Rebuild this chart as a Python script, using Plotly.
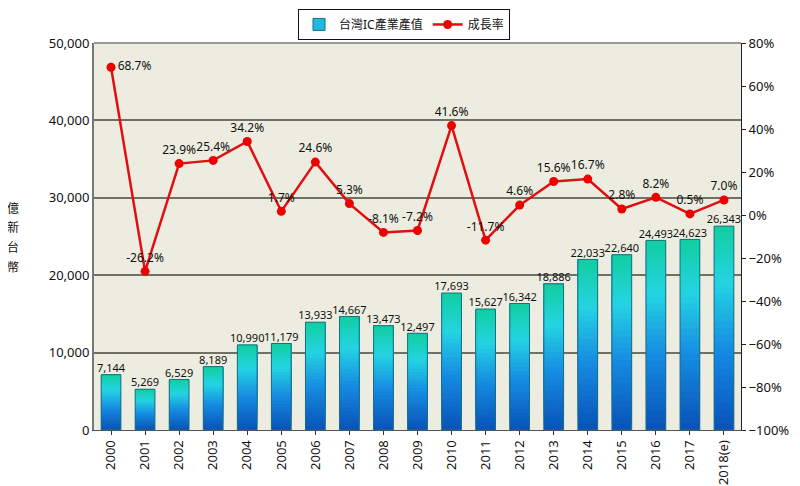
import plotly.graph_objects as go

years = ["2000", "2001", "2002", "2003", "2004", "2005", "2006", "2007", "2008", "2009",
         "2010", "2011", "2012", "2013", "2014", "2015", "2016", "2017", "2018(e)"]
output_value = [7144, 5269, 6529, 8189, 10990, 11179, 13933, 14667, 13473, 12497,
                17693, 15627, 16342, 18886, 22033, 22640, 24493, 24623, 26343]
growth_rate = [68.7, -26.2, 23.9, 25.4, 34.2, 1.7, 24.6, 5.3, -8.1, -7.2,
               41.6, -11.7, 4.6, 15.6, 16.7, 2.8, 8.2, 0.5, 7.0]
unit_chars = ["億", "新", "台", "幣"]

FONT = "Noto Sans, Noto Sans CJK TC, sans-serif"
BAR_W = 0.58

# gradient stops for the bars (fraction from bottom, rgb)
stops = [(0.0, (8, 82, 184)), (0.4, (22, 140, 226)), (0.72, (36, 212, 226)), (1.0, (16, 206, 160))]


def grad(f):
    for (f0, c0), (f1, c1) in zip(stops[:-1], stops[1:]):
        if f <= f1:
            t = (f - f0) / (f1 - f0)
            return "rgb(%d,%d,%d)" % tuple(round(a + (b - a) * t) for a, b in zip(c0, c1))
    return "rgb(%d,%d,%d)" % stops[-1][1]


fig = go.Figure()

# bars drawn as overlapping slices (each from i/N up to the top) -> vertical gradient
N = 30
for i in range(N):
    fig.add_trace(go.Bar(
        x=years, y=[v * (N - i) / N for v in output_value], base=[v * i / N for v in output_value],
        width=BAR_W, marker=dict(color=grad((i + 0.5) / N), line=dict(width=0)),
        showlegend=False, hoverinfo="skip",
    ))

# outline
fig.add_trace(go.Bar(
    x=years, y=output_value, width=BAR_W, showlegend=False,
    marker=dict(color="rgba(0,0,0,0)", line=dict(color="#1b6f80", width=1)),
))
# legend entry for the bars
fig.add_trace(go.Bar(x=[years[0]], y=[0], name="台灣IC產業產值", width=BAR_W,
                     marker=dict(color="#22b8e0", line=dict(color="#1b6f80", width=1))))

# value labels above bars
fig.add_trace(go.Scatter(
    x=years, y=output_value, mode="text", showlegend=False,
    text=[f"{v:,}" for v in output_value], textposition="top center",
    textfont=dict(size=11, color="#111", family=FONT), cliponaxis=False,
))

pos = ["middle right"] + ["top center"] * (len(years) - 1)
fig.add_trace(go.Scatter(
    x=years, y=growth_rate, yaxis="y2", name="成長率", mode="lines+markers+text",
    line=dict(color="#e01010", width=2.5), marker=dict(color="#ee0000", size=9),
    text=[f"{g:.1f}%" for g in growth_rate], textposition=pos,
    textfont=dict(size=12, color="#111", family=FONT), cliponaxis=False,
))

# page body adds an 8px offset, so the figure is 8px smaller and margins shifted
fig.update_layout(
    width=792, height=478,
    margin=dict(l=86, r=59, t=35, b=56),
    paper_bgcolor="white", plot_bgcolor="#ecede0",
    barmode="overlay",
    font=dict(family=FONT, size=13, color="#111"),
    legend=dict(orientation="h", x=0.5, xanchor="center", xref="container",
                y=0.998, yanchor="top", yref="container",
                bordercolor="#111", borderwidth=1, font=dict(size=12),
                tracegroupgap=0),
    xaxis=dict(type="category", range=[-0.5, len(years) - 0.5], tickangle=-90,
               showgrid=False, ticks="outside", ticklen=4, tickcolor="#333",
               showline=True, linecolor="#555", tickfont=dict(size=13), automargin=False),
    yaxis=dict(range=[0, 50000], dtick=10000, tickformat=",d", showgrid=True,
               gridcolor="#707066", gridwidth=1.5, showline=True, linecolor="#777",
               linewidth=2, zeroline=False, tickfont=dict(size=13), automargin=False),
    yaxis2=dict(range=[-100, 80], dtick=20, ticksuffix="%", overlaying="y", side="right",
                showgrid=False, zeroline=False, showline=True, linecolor="#222",
                ticks="outside", ticklen=4, tickcolor="#222", tickfont=dict(size=13),
                automargin=False),
    shapes=[dict(type="line", xref="paper", yref="paper", x0=0, x1=1, y0=1, y1=1,
                 line=dict(color="#999", width=2))],
    annotations=[dict(text=c, xref="paper", yref="paper", x=-0.125, y=0.573 - 0.051 * k,
                      xanchor="center", yanchor="middle", showarrow=False,
                      font=dict(size=12, color="#111"))
                 for k, c in enumerate(unit_chars)],
)

fig.write_html("out.html")
